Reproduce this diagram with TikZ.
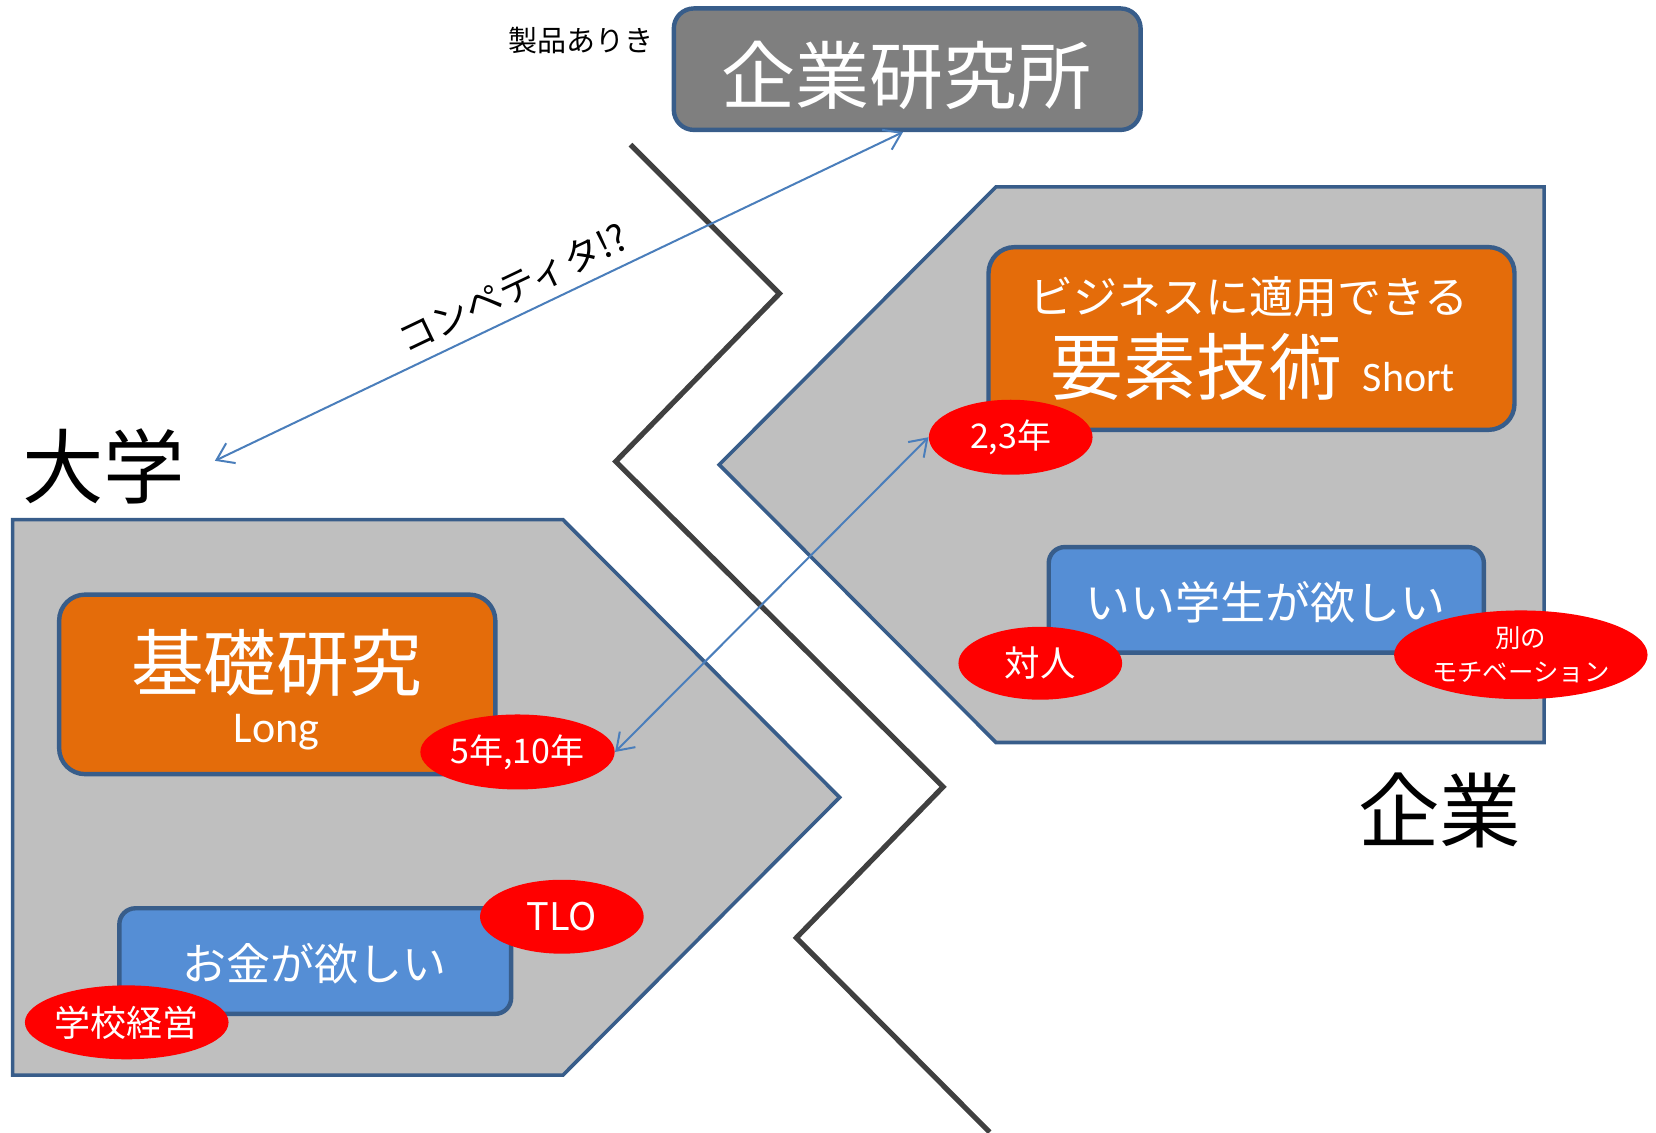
\documentclass[tikz,border=0pt]{standalone}
\usepackage{fontspec}
\setmainfont{Noto Sans CJK JP}
\newfontfamily\calib{Carlito}
\usetikzlibrary{shapes.geometric,arrows.meta}
\definecolor{bord}{HTML}{385D8A}
\definecolor{grayfill}{HTML}{BFBFBF}
\definecolor{labgray}{HTML}{7F7F7F}
\definecolor{orng}{HTML}{E46C0A}
\definecolor{bluebox}{HTML}{558ED5}
\definecolor{arrblue}{HTML}{4A7EBB}
\definecolor{zig}{HTML}{404040}
\newcommand\fsz[2]{\fontsize{#1}{#2}\selectfont}
\begin{document}
\begin{tikzpicture}[x=0.528pt,y=-0.528pt,
  region/.style={fill=grayfill,draw=bord,line width=1.8pt,line join=miter},
  zigline/.style={draw=zig,line width=2.6pt,line join=miter},
  boxbase/.style={draw=bord,line width=2.2pt,inner sep=0pt},
  labbox/.style={boxbase,fill=labgray,rounded corners=10pt},
  orbox/.style={boxbase,fill=orng,rounded corners=13pt},
  blbox/.style={boxbase,fill=bluebox,rounded corners=8pt},
  redell/.style={ellipse,fill=red,inner sep=0pt,text=white,align=center},
  wtext/.style={text=white,inner sep=0pt,align=center},
  btext/.style={text=black,inner sep=0pt,align=center},
  arr/.style={draw=arrblue,line width=1pt,{Straight Barb[length=8pt,width=11pt]}-{Straight Barb[length=8pt,width=11pt]}}]
\useasboundingbox (0,0) rectangle (1568,1072);

% regions
\draw[region] (12,492) -- (533,492) -- (795,755) -- (533,1018) -- (12,1018) -- cycle;
\draw[region] (943,177) -- (1462,177) -- (1462,703) -- (943,703) -- (681,440) -- cycle;

% zigzag divider
\draw[zigline] (597,137) -- (738,278) -- (583,437) -- (893,745) -- (754,888) -- (937,1072);

% top lab box
\node[labbox,minimum width=442*0.528pt,minimum height=115*0.528pt] (lab) at (859,65.5) {};
\node[wtext,font=\fsz{37pt}{40pt}] (labt) at (858,71) {企業研究所};
\node[btext,font=\fsz{14.5pt}{16pt}] (seihin) at (550,38) {製品ありき};

% labels
\node[btext,font=\fsz{40.7pt}{44pt}] (daigaku) at (98,442) {大学};
\node[btext,font=\fsz{40.7pt}{44pt}] (kigyo) at (1363,767) {企業};

% left boxes
\node[orbox,minimum width=413*0.528pt,minimum height=170*0.528pt] (kiso) at (262.5,648) {};
\node[wtext,font=\fsz{36.4pt}{40pt}] (kisot) at (262,628) {基礎研究};
\node[wtext,font=\calib\fsz{22pt}{24pt}] (long) at (262,693) {Long};

\node[blbox,minimum width=371*0.528pt,minimum height=100*0.528pt] (okane) at (298.5,910) {};
\node[wtext,font=\fsz{22pt}{24pt}] (okanet) at (298,912) {お金が欲しい};

% right boxes
\node[orbox,minimum width=498*0.528pt,minimum height=173*0.528pt] (yoso) at (1185,320.5) {};
\node[wtext,font=\fsz{22pt}{24pt}] (biz) at (1183,281) {ビジネスに適用できる};
\node[wtext,font=\fsz{36.4pt}{40pt}] (yosot) at (1133,347) {要素技術};
\node[wtext,font=\calib\fsz{21pt}{24pt}] (short) at (1334,357) {Short};

\node[blbox,minimum width=412*0.528pt,minimum height=100*0.528pt] (gakusei) at (1199,568) {};
\node[wtext,font=\fsz{22.5pt}{24pt}] (gakuseit) at (1198,570) {いい学生が欲しい};

% red ellipses
\node[redell,minimum width=184*0.528pt,minimum height=71*0.528pt,font=\fsz{17pt}{20pt}] (e510) at (490,712) {5年,10年};
\node[redell,minimum width=155*0.528pt,minimum height=71*0.528pt,font=\fsz{17pt}{20pt}] (e23) at (957,414) {2,3年};
\node[redell,minimum width=155*0.528pt,minimum height=70*0.528pt,font=\fsz{19pt}{20pt}] (tlo) at (532,868) {TLO};
\node[redell,minimum width=184*0.528pt,minimum height=70*0.528pt,font=\fsz{18pt}{20pt}] (gakko) at (120,968) {学校経営};
\node[redell,minimum width=155*0.528pt,minimum height=69*0.528pt,font=\fsz{17.7pt}{20pt}] (taijin) at (985,628) {対人};
\node[redell,minimum width=240*0.528pt,minimum height=84*0.528pt,font=\fsz{12.7pt}{17pt}] (betsu) at (1440,620) {別の\\モチベーション};

% arrows
\draw[arr] ([xshift=28*0.528pt,yshift=3pt]daigaku.east) -- node[pos=0.45,sloped,above=5pt,text=black,font=\fsz{18.5pt}{20pt},inner sep=0pt] (comp) {コンペティタ!?} ([xshift=-4*0.528pt]lab.south);
\draw[arr] (e510.east) -- (e23.west);
\end{tikzpicture}
\end{document}
